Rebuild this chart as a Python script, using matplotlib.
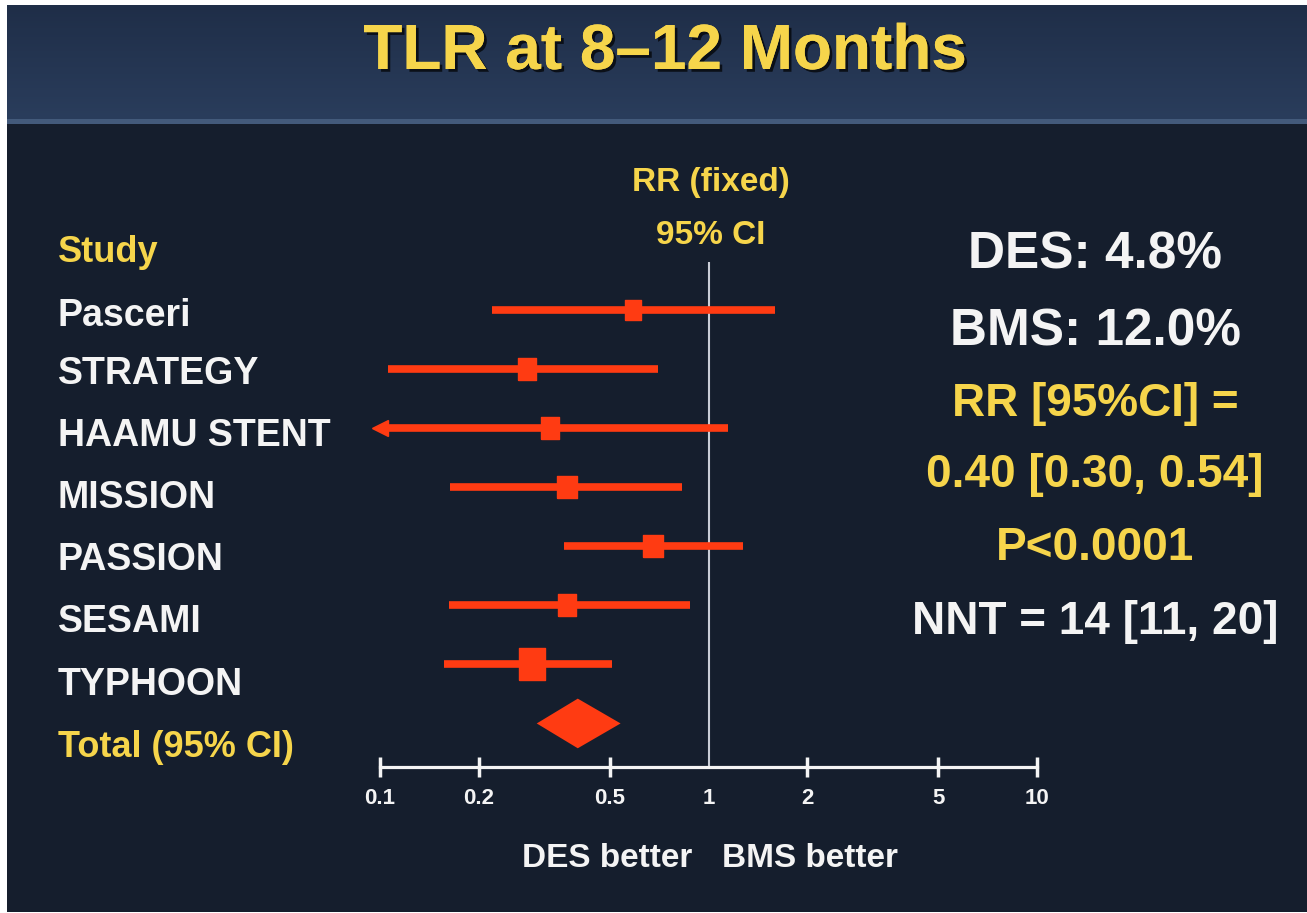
import numpy as np
import matplotlib
matplotlib.use("Agg")
import matplotlib.pyplot as plt
import matplotlib.patheffects as pe
from matplotlib.ticker import NullLocator
from matplotlib.colors import LinearSegmentedColormap

# forest plot data (risk ratio, 95% CI, box weight %)
studies = ["Pasceri", "STRATEGY", "HAAMU STENT", "MISSION", "PASSION", "SESAMI", "TYPHOON"]
rr = [0.59, 0.28, 0.33, 0.37, 0.68, 0.37, 0.29]
ci_lo = [0.22, 0.106, 0.06, 0.163, 0.363, 0.162, 0.157]
ci_hi = [1.59, 0.70, 1.15, 0.83, 1.27, 0.88, 0.51]
weights = [10.2, 12.3, 12.3, 13.4, 13.4, 12.3, 26.0]

total_rr = 0.40
total_lo = 0.30
total_hi = 0.54

xticks = [0.1, 0.2, 0.5, 1, 2, 5, 10]
xtick_labels = ["0.1", "0.2", "0.5", "1", "2", "5", "10"]

summary_lines = ["DES: 4.8%", "BMS: 12.0%", "RR [95%CI] =", "0.40 [0.30, 0.54]", "P<0.0001", "NNT = 14 [11, 20]"]

RED = "#ff3b12"
YELLOW = "#f6d54b"
WHITE = "#f4f4f4"
BG = "#151e2d"

plt.rcParams["font.family"] = ["Liberation Sans", "DejaVu Sans"]
plt.rcParams["font.weight"] = "bold"

W, H = 1307, 913
fig = plt.figure(figsize=(W / 100, H / 100), dpi=100)
fig.patch.set_facecolor("white")


def fx(x):
    return x / W


def fy(y):
    return 1 - y / H


# background panel + title band
bg = fig.add_axes([0, 0, 1, 1])
bg.axis("off")
bg.add_patch(plt.Rectangle((7, 5), W - 7, 907, color=BG, lw=0))
band = LinearSegmentedColormap.from_list("band", ["#1f2e48", "#2a3d5c"])
bg.imshow(np.linspace(0, 1, 50).reshape(-1, 1), cmap=band, aspect="auto",
          extent=(7, W, 120, 5), zorder=1)
bg.add_patch(plt.Rectangle((7, 119), W - 7, 5, color="#435a7b", lw=0, zorder=2))
bg.set_xlim(0, W)
bg.set_ylim(H, 0)

fig.text(fx(665), fy(52), "TLR at 8–12 Months", fontsize=46,
         color=YELLOW, ha="center", va="center",
         path_effects=[pe.withSimplePatchShadow(offset=(2, -2), shadow_rgbFace="black", alpha=0.7),
                       pe.Normal()])

# forest plot axes
row0, row_step = 309.75, 59.1
top_px, bot_px = 262, 767
ax = fig.add_axes([fx(380), fy(bot_px), fx(1037) - fx(380), (bot_px - top_px) / H])
ax.set_facecolor("none")
ax.set_xscale("log")
ax.set_xlim(0.1, 10)
ax.set_ylim((bot_px - row0) / row_step, (top_px - row0) / row_step)
for s in ["left", "top", "right"]:
    ax.spines[s].set_visible(False)
ax.spines["bottom"].set_color(WHITE)
ax.spines["bottom"].set_linewidth(2.3)
ax.set_yticks([])
ax.set_xticks(xticks)
ax.set_xticklabels(xtick_labels, fontsize=16, color=WHITE)
ax.xaxis.set_minor_locator(NullLocator())
ax.tick_params(axis="x", direction="inout", length=14, width=2.5, color=WHITE, pad=8)
ax.xaxis.get_major_ticks()[3].tick1line.set_visible(False)

ax.axvline(1, color="#c9cdd6", lw=1.5, zorder=1)

rows = np.arange(len(studies))
lo_plot = [max(v, 0.1) for v in ci_lo]
ax.hlines(rows, lo_plot, ci_hi, color=RED, lw=5.5, zorder=2)
for i in rows:
    if ci_lo[i] < 0.1:
        ax.plot(0.1, i, marker="<", ms=11, color=RED, clip_on=False, zorder=3)
box = [(-0.42, -0.5), (0.42, -0.5), (0.42, 0.5), (-0.42, 0.5), (-0.42, -0.5)]
for i in rows:
    ax.plot(rr[i], i, marker=box, ms=4.51 * np.sqrt(weights[i]), color=RED,
            mec=RED, zorder=3)

ty = len(studies)
ax.fill([total_lo, total_rr, total_hi, total_rr], [ty, ty - 0.42, ty, ty + 0.42],
        color=RED, lw=0, zorder=3)

# study labels (spaced slightly wider than the rows, as in the slide)
label_y = [316, 374, 436, 498, 560, 622, 685]
fig.text(fx(58), fy(253), "Study", fontsize=26, color=YELLOW, ha="left", va="center")
for name, yy in zip(studies, label_y):
    fig.text(fx(58), fy(yy), name, fontsize=27, color=WHITE, ha="left", va="center")
fig.text(fx(58), fy(747), "Total (95% CI)", fontsize=26, color=YELLOW, ha="left", va="center")

fig.text(fx(711), fy(182), "RR (fixed)", fontsize=24, color=YELLOW, ha="center", va="center")
fig.text(fx(711), fy(236), "95% CI", fontsize=24, color=YELLOW, ha="center", va="center")

fig.text(fx(692), fy(858), "DES better", fontsize=24, color=WHITE, ha="right", va="center")
fig.text(fx(722), fy(858), "BMS better", fontsize=24, color=WHITE, ha="left", va="center")

# summary text on the right
sum_y = [255, 332, 404, 475, 548, 622]
sum_size = [37, 37, 33, 33, 33, 33]
sum_col = [WHITE, WHITE, YELLOW, YELLOW, YELLOW, WHITE]
for txt, yy, sz, c in zip(summary_lines, sum_y, sum_size, sum_col):
    fig.text(fx(1095), fy(yy), txt, fontsize=sz, color=c, ha="center", va="center")

fig.savefig("out.png", dpi=100, facecolor=fig.get_facecolor())
